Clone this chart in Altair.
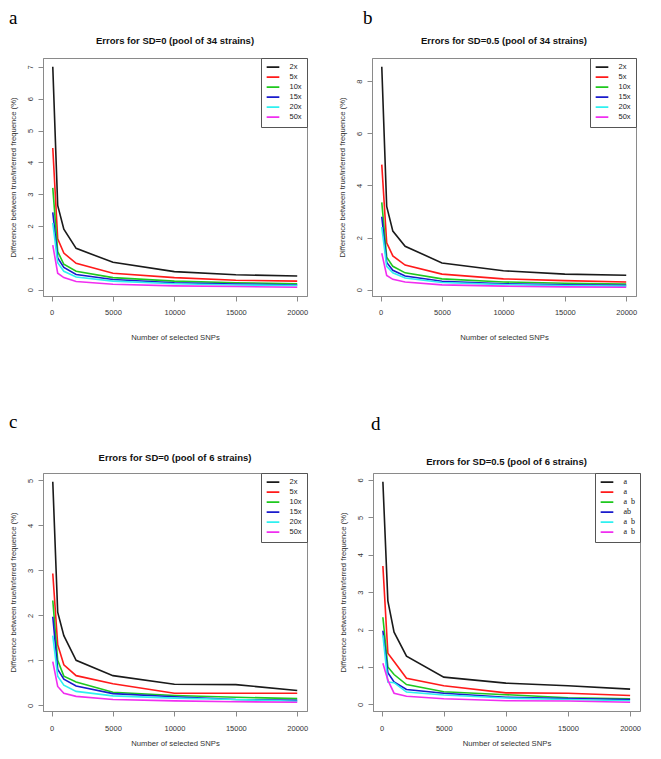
import altair as alt
import pandas as pd

# ---------------- data ----------------
snps = [100, 500, 1000, 2000, 5000, 10000, 15000, 20000]
series = ["2x", "5x", "10x", "15x", "20x", "50x"]
colors = ["#1a1a1a", "#ff1a1a", "#1ec81e", "#1a1acc", "#2ef0f0", "#f02ef0"]

# panel a: SD=0, pool of 34 strains
a_2x = [7.0, 2.65, 1.9, 1.3, 0.86, 0.57, 0.47, 0.43]
a_5x = [4.45, 1.6, 1.15, 0.83, 0.52, 0.38, 0.30, 0.27]
a_10x = [3.2, 1.2, 0.80, 0.58, 0.38, 0.27, 0.22, 0.19]
a_15x = [2.43, 1.0, 0.70, 0.48, 0.32, 0.22, 0.18, 0.15]
a_20x = [2.1, 0.85, 0.58, 0.40, 0.27, 0.19, 0.15, 0.13]
a_50x = [1.4, 0.52, 0.38, 0.26, 0.17, 0.12, 0.10, 0.08]

# panel b: SD=0.5, pool of 34 strains
b_2x = [8.55, 3.2, 2.25, 1.67, 1.03, 0.73, 0.60, 0.56]
b_5x = [4.8, 1.8, 1.3, 0.95, 0.60, 0.42, 0.35, 0.30]
b_10x = [3.35, 1.25, 0.90, 0.65, 0.42, 0.30, 0.25, 0.22]
b_15x = [2.8, 1.05, 0.75, 0.53, 0.33, 0.23, 0.19, 0.17]
b_20x = [2.4, 0.90, 0.65, 0.45, 0.28, 0.20, 0.16, 0.14]
b_50x = [1.4, 0.55, 0.40, 0.30, 0.19, 0.14, 0.11, 0.10]

# panel c: SD=0, pool of 6 strains
c_2x = [4.97, 2.07, 1.55, 1.0, 0.66, 0.47, 0.46, 0.33]
c_5x = [2.93, 1.35, 0.90, 0.66, 0.48, 0.27, 0.27, 0.27]
c_10x = [2.33, 1.0, 0.65, 0.52, 0.29, 0.22, 0.18, 0.15]
c_15x = [1.97, 0.80, 0.58, 0.43, 0.26, 0.19, 0.13, 0.11]
c_20x = [1.55, 0.65, 0.45, 0.31, 0.21, 0.16, 0.13, 0.09]
c_50x = [0.97, 0.42, 0.27, 0.20, 0.13, 0.10, 0.08, 0.07]

# panel d: SD=0.5, pool of 6 strains
d_2x = [5.95, 2.77, 1.93, 1.29, 0.73, 0.57, 0.50, 0.41]
d_5x = [3.7, 1.37, 1.15, 0.70, 0.50, 0.31, 0.30, 0.24]
d_10x = [2.33, 1.0, 0.80, 0.53, 0.34, 0.26, 0.18, 0.15]
d_15x = [1.97, 0.85, 0.60, 0.40, 0.30, 0.19, 0.16, 0.13]
d_20x = [1.85, 0.60, 0.58, 0.33, 0.25, 0.17, 0.13, 0.10]
d_50x = [1.1, 0.65, 0.30, 0.22, 0.15, 0.10, 0.09, 0.06]

d_labels = ["\u00a0\u00a0a", "\u00a0\u00a0a", "a\u00a0\u00a0b", "\u00a0\u00a0ab", "a\u00a0\u00a0b", "a\u00a0\u00a0b"]

x_ticks = [0, 5000, 10000, 15000, 20000]
XDOM = [100 - 0.04 * 19900, 20000 + 0.04 * 19900]

SANS = "Liberation Sans"
SERIF = "Liberation Serif"
GRAY = "#8a8a8a"
TXT = "#333333"

AXIS_STYLE = dict(
    grid=False, domainColor=GRAY, tickColor=GRAY, labelColor=TXT, titleColor=TXT,
    labelFont=SANS, titleFont=SANS, labelFontSize=7.5, titleFontSize=7.7,
    titleFontWeight="normal", domainWidth=1, tickWidth=1, tickSize=5,
)


def make_panel(letter, title, vals, yticks, width, height, letter_dx, letter_off,
               title_off, xlab_pad, xtitle_pad, labels=None, label_font=SANS):
    rows = []
    for s, v in zip(series, vals):
        for x, y in zip(snps, v):
            rows.append({"snps": x, "err": y, "series": s})
    df = pd.DataFrame(rows)
    lo = min(min(v) for v in vals)
    hi = max(max(v) for v in vals)
    pad = 0.04 * (hi - lo)
    ydom = [lo - pad, hi + pad]

    legend_kw = dict(
        title=None, orient="top-right", offset=0, padding=4.5,
        strokeColor="#555555", fillColor="white", cornerRadius=0,
        symbolType="stroke", symbolStrokeWidth=1.6, symbolSize=160,
        labelFont=label_font, labelFontSize=7.5, labelColor="#222222",
        labelOffset=9, rowPadding=0, clipHeight=9.3,
    )
    if labels is not None:
        expr = " : ".join(
            f"datum.label == '{s}' ? '{l}'" for s, l in zip(series, labels)
        ) + " : datum.label"
        legend_kw["labelExpr"] = expr
        legend_kw["labelFontSize"] = 8
        legend_kw["labelColor"] = "#111111"

    chart = alt.Chart(df).mark_line(strokeWidth=1.6, clip=True).encode(
        x=alt.X("snps:Q",
                scale=alt.Scale(domain=XDOM, nice=False, zero=False),
                axis=alt.Axis(values=x_ticks, format="d", title="Number of selected SNPs",
                              labelFlush=False, labelPadding=xlab_pad,
                              titlePadding=xtitle_pad, **AXIS_STYLE)),
        y=alt.Y("err:Q",
                scale=alt.Scale(domain=ydom, nice=False, zero=False),
                axis=alt.Axis(values=yticks, format="d",
                              title="Difference between true/inferred frequence (%)",
                              labelAngle=270, labelAlign="center", labelBaseline="middle",
                              labelPadding=8, titlePadding=8.5, **AXIS_STYLE)),
        color=alt.Color("series:N",
                        scale=alt.Scale(domain=series, range=colors),
                        sort=series,
                        legend=alt.Legend(**legend_kw)),
    ).properties(
        width=width, height=height,
        title=alt.TitleParams(title, font=SANS, fontSize=9.5, fontWeight="bold",
                              color="#111111", offset=title_off, anchor="middle"),
    )
    return alt.vconcat(
        chart,
        title=alt.TitleParams(letter, anchor="start", font=SERIF, fontSize=19,
                              fontWeight="normal", color="#000000", dx=letter_dx,
                              offset=letter_off),
    ).resolve_scale(color="independent")


pa = make_panel("a", "Errors for SD=0 (pool of 34 strains)",
                [a_2x, a_5x, a_10x, a_15x, a_20x, a_50x], list(range(0, 8)), 264, 238,
                0, 8, 12, 7, 18)
pb = make_panel("b", "Errors for SD=0.5 (pool of 34 strains)",
                [b_2x, b_5x, b_10x, b_15x, b_20x, b_50x], [0, 2, 4, 6, 8], 264, 238,
                25, 8, 12, 7, 18)
pc = make_panel("c", "Errors for SD=0 (pool of 6 strains)",
                [c_2x, c_5x, c_10x, c_15x, c_20x, c_50x], list(range(0, 6)), 264, 238,
                0, 21, 10, 8, 8)
pd_ = make_panel("d", "Errors for SD=0.5 (pool of 6 strains)",
                 [d_2x, d_5x, d_10x, d_15x, d_20x, d_50x], list(range(0, 7)), 267, 238,
                 32, 23, 6, 8, 8, labels=d_labels, label_font=SERIF)

row1 = alt.hconcat(pa, pb, spacing=29).resolve_scale(color="independent")
row2 = alt.hconcat(pc, pd_, spacing=29).resolve_scale(color="independent")

chart = alt.vconcat(row1, row2, spacing=70).resolve_scale(
    color="independent", x="independent", y="independent"
).properties(padding=0, background="white").configure_view(
    stroke=GRAY, strokeWidth=1
)

chart.save("out.html", embed_options={"renderer": "svg", "actions": False})
